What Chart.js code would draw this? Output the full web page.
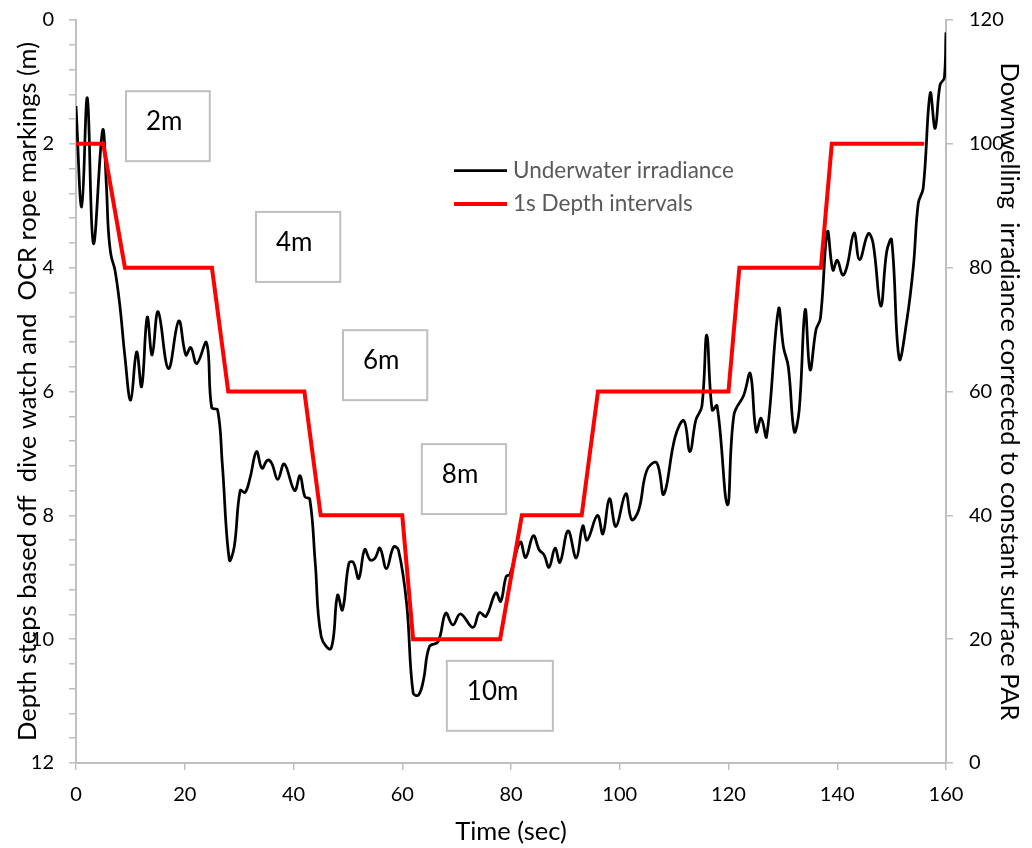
<!DOCTYPE html>
<html>
<head>
<meta charset="utf-8">
<script src="https://cdn.jsdelivr.net/npm/chart.js@4.4.1/dist/chart.umd.min.js"></script>
<style>
  html, body { margin: 0; padding: 0; background: #ffffff; }
  #wrap { width: 1032px; height: 848px; }
</style>
</head>
<body>
<div id="wrap"><canvas id="chart" width="1032" height="848"></canvas></div>
<script>
// Underwater irradiance record (time in s, irradiance corrected to surface PAR)
const timeSec = [
  0, 1.05, 2.08, 3.2, 4.9, 5.6, 5.95, 6.44, 7.17, 8.09, 9.0, 10.05, 11.15, 12.07, 13.1, 14.0,
  15.1, 17.0, 18.9, 20.2, 21.1, 22.2, 24.0, 24.95, 26.05, 26.9, 28.2, 29.1, 30.2, 31.1, 32.0,
  33.2, 34.2, 35.2, 36.0, 37.1, 38.3, 40.2, 41.2, 42.1, 43.0, 44.0, 45.1, 46.9, 48.1, 49.0,
  50.2, 51.0, 52.0, 53.1, 54.1, 55.0, 55.9, 57.1, 58.4, 59.3, 60.8, 62.0, 63.0, 63.9, 65.0,
  66.6, 68.0, 69.3, 70.7, 73.0, 74.2, 75.4, 77.2, 78.1, 79.1, 79.8, 81.7, 82.7, 84.1, 85.2,
  86.1, 87.0, 88.1, 89.0, 90.5, 92.0, 93.2, 94.0, 95.9, 96.9, 98.1, 99.3, 101.1, 102.2, 103.5,
  105.0, 106.8, 108.1, 110.2, 111.8, 112.9, 114.0, 115.1, 116.0, 117.0, 117.9, 119.8, 121.0,
  122.8, 124.0, 125.1, 126.0, 127.0, 129.2, 130.1, 131.0, 132.1, 133.0, 134.1, 135.0, 136.1,
  136.9, 138.2, 139.2, 140.0, 141.0, 141.8, 143.1, 144.1, 145.7, 146.6, 148.0, 149.1, 150.0,
  151.4, 152.8, 154.0, 154.9, 155.8, 157.1, 158.0, 158.9, 159.7, 160.0
];
const irradiance = [
  106.1, 89.8, 107.4, 83.9, 102.2, 93.1, 86.1, 82.0, 79.6, 73.7, 65.6, 58.6, 66.4, 60.8, 72.0, 65.9,
  72.9, 63.7, 71.4, 65.9, 67.1, 64.5, 67.9, 57.4, 57.0, 48.4, 32.8, 34.9, 44.0, 43.7, 46.0,
  50.3, 47.6, 48.9, 48.4, 45.8, 48.3, 44.0, 46.4, 43.0, 42.6, 32.3, 20.4, 18.5, 27.1, 24.7,
  32.3, 32.4, 29.8, 34.5, 32.8, 33.1, 34.7, 31.4, 34.9, 34.4, 25.8, 11.3, 11.0, 13.4, 18.8,
  19.6, 24.2, 22.3, 24.1, 21.9, 24.3, 23.7, 27.5, 26.1, 30.1, 30.5, 35.7, 33.2, 36.7, 34.4,
  33.6, 31.6, 34.7, 32.4, 37.5, 33.1, 38.3, 36.0, 40.0, 37.0, 42.7, 38.2, 43.5, 39.3, 40.9,
  47.3, 48.5, 43.4, 52.7, 55.3, 50.3, 55.4, 57.6, 69.1, 57.0, 57.7, 41.7, 56.2,
  59.4, 62.9, 53.5, 55.7, 52.7, 73.3, 67.2, 64.0, 53.5, 57.0, 73.2, 63.5, 70.0,
  71.8, 85.8, 79.6, 81.2, 78.8, 80.2, 85.6, 81.3, 85.5, 83.9, 73.8, 82.6, 84.5,
  65.3, 71.5, 80.2, 90.4, 92.8, 108.2, 102.5, 109.5, 110.7, 118.0
];

// Depth steps from the dive watch and rope markings (time in s, depth in m)
const stepTimeSec = [0, 5, 9, 25, 28, 42, 45, 60, 62, 78, 82, 93, 96, 120, 122, 137, 139, 156];
const stepDepthM  = [2, 2, 4, 4, 6, 6, 8, 8, 10, 10, 8, 8, 6, 6, 4, 4, 2, 2];

// Depth marker captions
const depthMarkLabels = ['2m', '4m', '6m', '8m', '10m'];

// Axis ticks
const timeTicks = [0, 20, 40, 60, 80, 100, 120, 140, 160];
const depthTicks = [0, 2, 4, 6, 8, 10, 12];
const parTicks = [0, 20, 40, 60, 80, 100, 120];

const seriesNames = ['Underwater irradiance', '1s Depth intervals'];

// ---- presentation ----
const FONT = 'Lato, "Open Sans", sans-serif';
const AXIS_GREY = '#bfbfbf';

// caption boxes, placed in axis units (time s, depth m)
const markBoxes = [
  { t0: 9.2,  t1: 24.6, d0: 1.15,  d1: 2.28 },
  { t0: 33.1, t1: 48.6, d0: 3.10,  d1: 4.23 },
  { t0: 49.1, t1: 64.6, d0: 5.01,  d1: 6.14 },
  { t0: 63.6, t1: 79.1, d0: 6.85,  d1: 7.98 },
  { t0: 68.2, t1: 87.7, d0: 10.35, d1: 11.48 }
];

const isTick = (list, v) => list.some(t => Math.abs(t - v) < 1e-6);

const captionPlugin = {
  id: 'depthCaptions',
  afterDatasetsDraw(chart) {
    const ctx = chart.ctx;
    const xs = chart.scales.x, ys = chart.scales.yDepth;
    ctx.save();
    markBoxes.forEach((b, i) => {
      const l = xs.getPixelForValue(b.t0), r = xs.getPixelForValue(b.t1);
      const t = ys.getPixelForValue(b.d0), btm = ys.getPixelForValue(b.d1);
      ctx.fillStyle = '#ffffff';
      ctx.fillRect(l, t, r - l, btm - t);
      ctx.strokeStyle = AXIS_GREY;
      ctx.lineWidth = 2;
      ctx.strokeRect(l, t, r - l, btm - t);
      ctx.fillStyle = '#000000';
      ctx.font = '26px ' + FONT;
      ctx.textAlign = 'left';
      ctx.textBaseline = 'alphabetic';
      ctx.fillText(depthMarkLabels[i], l + 20, t + 39);
    });
    ctx.restore();
  }
};

const legendPlugin = {
  id: 'insetLegend',
  afterDraw(chart) {
    const ctx = chart.ctx;
    ctx.save();
    const rows = [170.5, 204];
    chart.data.datasets.forEach((ds, i) => {
      const y = rows[i];
      ctx.strokeStyle = ds.borderColor;
      ctx.lineWidth = ds.borderWidth;
      ctx.beginPath();
      ctx.moveTo(454, y);
      ctx.lineTo(507, y);
      ctx.stroke();
      ctx.fillStyle = '#595959';
      ctx.font = '22.5px ' + FONT;
      ctx.textAlign = 'left';
      ctx.textBaseline = 'middle';
      ctx.fillText(ds.label, 513, y);
    });
    ctx.restore();
  }
};

const tickFont = { family: FONT, size: 20 };
const titleFont = { family: FONT, size: 25.5 };

// keep the plot frame where the axes put it: no extra room for end labels
const noEndPadding = s => { s.paddingTop = 0; s.paddingBottom = 0; s.paddingLeft = 0; s.paddingRight = 0; };

new Chart(document.getElementById('chart'), {
  type: 'line',
  data: {
    datasets: [
      {
        label: seriesNames[0],
        data: timeSec.map((t, i) => ({ x: t, y: irradiance[i] })),
        yAxisID: 'yPar',
        borderColor: '#000000',
        borderWidth: 2.75,
        tension: 0.4,
        pointRadius: 0,
        fill: false,
        order: 2
      },
      {
        label: seriesNames[1],
        data: stepTimeSec.map((t, i) => ({ x: t, y: stepDepthM[i] })),
        yAxisID: 'yDepth',
        borderColor: '#ff0000',
        borderWidth: 4,
        tension: 0,
        pointRadius: 0,
        fill: false,
        borderJoinStyle: 'miter',
        order: 1
      }
    ]
  },
  options: {
    responsive: false,
    animation: false,
    devicePixelRatio: 1,
    layout: { padding: { top: 20, left: 0, right: 0, bottom: 0 } },
    plugins: { legend: { display: false }, tooltip: { enabled: false } },
    scales: {
      x: {
        type: 'linear',
        min: timeTicks[0],
        max: timeTicks[timeTicks.length - 1],
        afterBuildTicks: s => { s.ticks = timeTicks.map(v => ({ value: v })); },
        ticks: { font: tickFont, color: '#000', padding: 13, maxRotation: 0, autoSkip: false },
        grid: { drawOnChartArea: false, tickLength: 7, color: AXIS_GREY, lineWidth: 1.5 },
        border: { color: AXIS_GREY, width: 2 },
        title: { display: true, text: 'Time (sec)', font: titleFont, color: '#000', padding: { top: 0, bottom: 1 } },
        afterFit: s => { s.height = 85; noEndPadding(s); }
      },
      yDepth: {
        type: 'linear',
        position: 'left',
        reverse: true,
        min: depthTicks[0],
        max: depthTicks[depthTicks.length - 1],
        ticks: {
          stepSize: 0.4,
          autoSkip: false,
          font: tickFont,
          color: '#000',
          padding: 15,
          callback: v => (isTick(depthTicks, v) ? String(Math.round(v)) : '')
        },
        grid: { drawOnChartArea: false, tickLength: 7, color: AXIS_GREY, lineWidth: 1.5 },
        border: { color: AXIS_GREY, width: 2 },
        title: {
          display: true,
          text: 'Depth steps based off  dive watch and  OCR rope markings (m)',
          font: titleFont, color: '#000', padding: { top: 12, bottom: 0 }
        },
        afterFit: s => { s.width = 76; noEndPadding(s); }
      },
      yPar: {
        type: 'linear',
        position: 'right',
        min: parTicks[0],
        max: parTicks[parTicks.length - 1],
        afterBuildTicks: s => { s.ticks = parTicks.map(v => ({ value: v })); },
        ticks: { font: tickFont, color: '#000', padding: 16, autoSkip: false },
        grid: { drawOnChartArea: false, tickLength: 7, color: AXIS_GREY, lineWidth: 1.5 },
        border: { color: AXIS_GREY, width: 2 },
        title: {
          display: true,
          text: 'Downwelling  irradiance corrected to constant surface PAR',
          font: titleFont, color: '#000', padding: { top: 7, bottom: 0 }
        },
        afterFit: s => { s.width = 86; noEndPadding(s); }
      }
    }
  },
  plugins: [captionPlugin, legendPlugin]
});
</script>
</body>
</html>
